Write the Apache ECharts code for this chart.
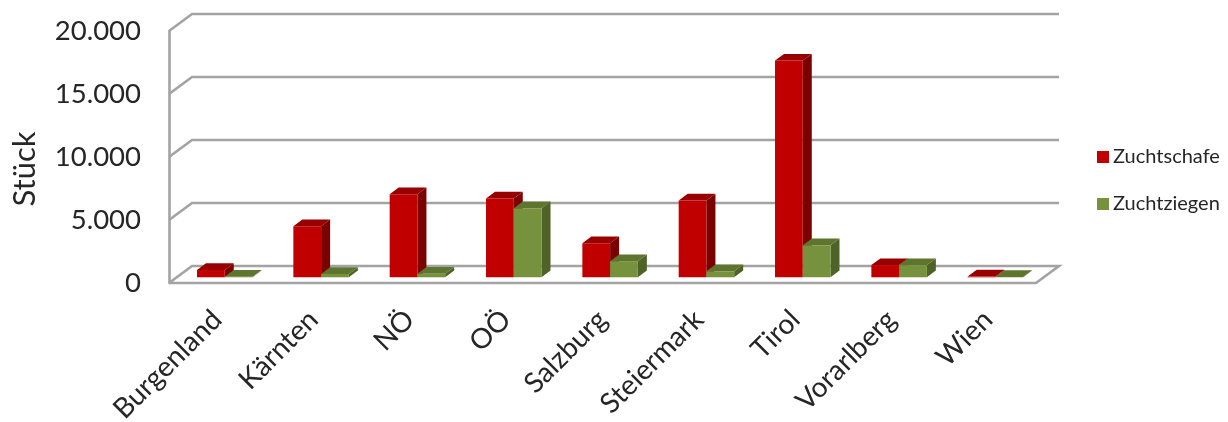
<!DOCTYPE html>
<html>
<head>
<meta charset="utf-8">
<title>Zuchtschafe und Zuchtziegen</title>
<script src="https://cdn.jsdelivr.net/npm/echarts@6/dist/echarts.min.js"></script>
<style>
html, body { margin: 0; padding: 0; background: #fff; }
#chart { width: 1228px; height: 422px; }
</style>
</head>
<body>
<div id="chart"></div>
<script>
var aCategories = ['Burgenland', 'Kärnten', 'NÖ', 'OÖ', 'Salzburg', 'Steiermark', 'Tirol', 'Vorarlberg', 'Wien'];
var aSchafe = [580, 4050, 6600, 6250, 2700, 6100, 17200, 970, 60];
var aZiegen = [50, 260, 280, 5480, 1280, 480, 2550, 970, 30];
var aTicks = [0, 5000, 10000, 15000, 20000];

// pseudo 3D depth in px: wall depth and the bars' place inside it
var iWallX = 23, iWallY = 17;
var iBarShiftX = 7.6, iBarShiftY = 5.7;
var iDepthX = 9, iDepthY = 6.7;
var iBarRate = 0.288;

function FormatTick(iValue) {
    return String(iValue).replace(/\B(?=(\d{3})+$)/g, '.');
}

function RenderWall(params, api) {
    var iValue = api.value(0);
    var aLeft = api.coord([0, iValue]);
    var iX0 = params.coordSys.x;
    var iX1 = iX0 + params.coordSys.width;
    var iY = aLeft[1];
    var aPoints = [[iX0, iY], [iX0 + iWallX, iY - iWallY], [iX1 + iWallX, iY - iWallY]];
    if (iValue === 0) {
        aPoints.push([iX1, iY], [iX0, iY]);
    }
    return {
        type: 'polyline',
        shape: {points: aPoints},
        style: {fill: null, stroke: '#a3a3a3', lineWidth: 2.6}
    };
}

function GetBarRender(iSide, sFront, sTop, sRight) {
    return function (params, api) {
        var aBase = api.coord([api.value(0), 0]);
        var aPeak = api.coord([api.value(0), api.value(1)]);
        var iWidth = api.size([1, 0])[0] * iBarRate;
        var iX = aBase[0] + iBarShiftX + (iSide === 0 ? -iWidth : 0);
        var iY0 = aBase[1] - iBarShiftY;
        var iY1 = aPeak[1] - iBarShiftY;
        return {
            type: 'group',
            children: [
                {
                    type: 'polygon',
                    shape: {points: [[iX + iWidth, iY0], [iX + iWidth + iDepthX, iY0 - iDepthY], [iX + iWidth + iDepthX, iY1 - iDepthY], [iX + iWidth, iY1]]},
                    style: {fill: sRight}
                },
                {
                    type: 'polygon',
                    shape: {points: [[iX, iY1], [iX + iDepthX, iY1 - iDepthY], [iX + iWidth + iDepthX, iY1 - iDepthY], [iX + iWidth, iY1]]},
                    style: {fill: sTop}
                },
                {
                    type: 'rect',
                    shape: {x: iX, y: iY1, width: iWidth, height: iY0 - iY1},
                    style: {fill: sFront}
                }
            ]
        };
    };
}

function GetPairs(aValues) {
    return aValues.map(function (iValue, iIndex) {
        return [iIndex, iValue];
    });
}

var sFont = 'Lato, "Open Sans", sans-serif';
var jOption = {
    animation: false,
    backgroundColor: '#fff',
    textStyle: {fontFamily: sFont, color: '#262626'},
    legend: {
        orient: 'vertical',
        left: 1092,
        top: 142,
        itemWidth: 12,
        itemHeight: 12,
        itemGap: 27,
        icon: 'rect',
        data: ['Zuchtschafe', 'Zuchtziegen'],
        textStyle: {fontFamily: sFont, fontSize: 20, color: '#262626', padding: [0, 0, 0, -1]}
    },
    grid: {left: 169, top: 31, width: 867, height: 252, outerBoundsMode: 'none'},
    xAxis: {
        type: 'category',
        data: aCategories,
        axisLine: {show: false},
        axisTick: {show: false},
        axisLabel: {rotate: 45, margin: 32, fontSize: 28, fontFamily: sFont, color: '#262626', interval: 0}
    },
    yAxis: {
        type: 'value',
        min: 0,
        max: 20000,
        interval: 5000,
        name: 'Stück',
        nameLocation: 'middle',
        nameGap: 129,
        nameTextStyle: {fontSize: 31, fontFamily: sFont, color: '#262626', padding: [0, 24, 0, 0]},
        axisLine: {show: true, lineStyle: {color: '#a3a3a3', width: 2.6}},
        axisTick: {show: false},
        splitLine: {show: false},
        axisLabel: {margin: 28, fontSize: 27.5, fontFamily: sFont, color: '#262626', padding: [5, 0, 0, 0], formatter: FormatTick}
    },
    series: [
        {
            name: 'wall',
            type: 'custom',
            renderItem: RenderWall,
            data: aTicks.map(function (iTick) { return [iTick]; }),
            encode: {y: 0},
            silent: true,
            z: 1
        },
        {
            name: 'Zuchtschafe',
            type: 'custom',
            renderItem: GetBarRender(0, '#c00000', '#980000', '#7b0000'),
            itemStyle: {color: '#c00000'},
            data: GetPairs(aSchafe),
            encode: {x: 0, y: 1},
            z: 2
        },
        {
            name: 'Zuchtziegen',
            type: 'custom',
            renderItem: GetBarRender(1, '#76923c', '#5e752f', '#4f6228'),
            itemStyle: {color: '#76923c'},
            data: GetPairs(aZiegen),
            encode: {x: 0, y: 1},
            z: 3
        }
    ]
};

var myChart = echarts.init(document.getElementById('chart'), null, {renderer: 'canvas'});
myChart.setOption(jOption);
</script>
</body>
</html>
